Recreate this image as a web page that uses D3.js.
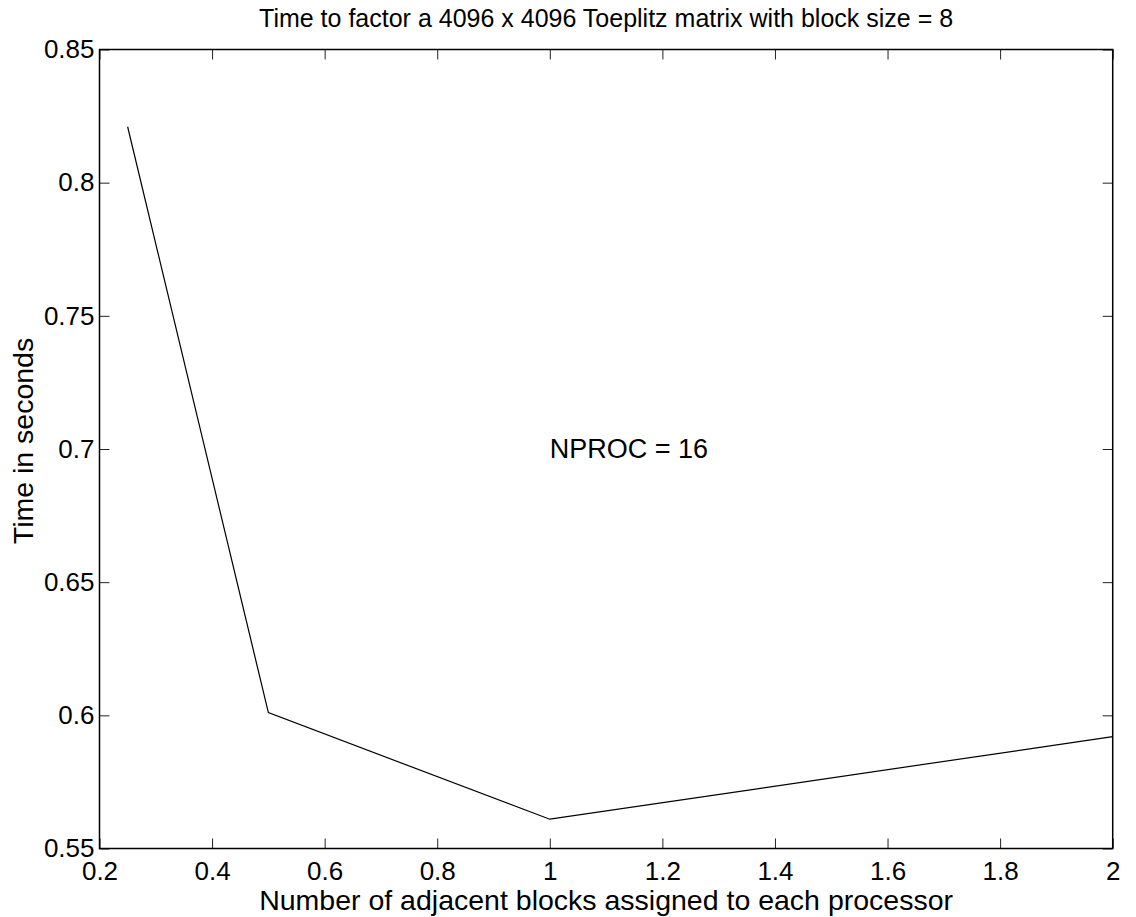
<!DOCTYPE html>
<meta charset="utf-8">
<style>
body { margin: 0; background-color: white; }
svg { display: block; }
text { font-family: "Liberation Sans", Arial, sans-serif; fill: black; }
.tick text { font-size: 26px; }
.title { font-size: 25px; }
.label { font-size: 28.5px; }
.note { font-size: 27px; }
</style>
<body>
<script src="https://d3js.org/d3.v7.min.js"></script>
<script>
// values
var blocks = [0.25, 0.5, 1, 2];
var seconds = [0.821, 0.601, 0.561, 0.592];
var xTicks = [0.2, 0.4, 0.6, 0.8, 1, 1.2, 1.4, 1.6, 1.8, 2];
var yTicks = [0.55, 0.6, 0.65, 0.7, 0.75, 0.8, 0.85];

var viewboxWidth = 1136,
    viewboxHeight = 917;
var margin = {top: 49.5, right: 23.3, bottom: 68.5, left: 99.5},
    width = viewboxWidth - margin.left - margin.right,
    height = viewboxHeight - margin.top - margin.bottom;

var x = d3.scaleLinear().domain([0.2, 2]).range([0, width]);
var y = d3.scaleLinear().domain([0.55, 0.85]).range([height, 0]);

var svg = d3.select("body").append("svg")
    .attr("width", viewboxWidth)
    .attr("height", viewboxHeight);

var g = svg.append("g")
    .attr("transform", "translate(" + margin.left + "," + margin.top + ")");

// axes, ticks pointing inward on all four sides
var tickLen = 10;
var fmt = function(d) { return d3.format("")(+d.toFixed(2)); };

var xBottom = g.append("g")
    .attr("transform", "translate(0," + height + ")")
    .call(d3.axisBottom(x).tickValues(xTicks).tickSize(-tickLen).tickPadding(13).tickFormat(fmt));
var xTop = g.append("g")
    .call(d3.axisTop(x).tickValues(xTicks).tickSize(-tickLen).tickFormat(""));
var yLeft = g.append("g")
    .call(d3.axisLeft(y).tickValues(yTicks).tickSize(-tickLen).tickPadding(5).tickFormat(fmt));
var yRight = g.append("g")
    .attr("transform", "translate(" + width + ",0)")
    .call(d3.axisRight(y).tickValues(yTicks).tickSize(-tickLen).tickFormat(""));

[xBottom, xTop, yLeft, yRight].forEach(function(a) {
  a.select(".domain").remove();
  a.selectAll(".tick line").attr("stroke", "#222").attr("stroke-width", 1);
});

g.append("rect")
    .attr("width", width)
    .attr("height", height)
    .attr("fill", "none")
    .attr("stroke", "black")
    .attr("stroke-width", 1.5);

// the data line
var pts = blocks.map(function(b, i) { return [b, seconds[i]]; });
g.append("path")
    .datum(pts)
    .attr("fill", "none")
    .attr("stroke", "black")
    .attr("stroke-width", 1.2)
    .attr("d", d3.line().x(function(d) { return x(d[0]); }).y(function(d) { return y(d[1]); }));

// annotation
g.append("text")
    .attr("class", "note")
    .attr("x", x(1))
    .attr("y", y(0.7))
    .attr("dy", "0.35em")
    .text("NPROC = 16");

// title and labels
g.append("text")
    .attr("class", "title")
    .attr("text-anchor", "middle")
    .attr("x", width / 2)
    .attr("y", -22.5)
    .text("Time to factor a 4096 x 4096 Toeplitz matrix with block size = 8");

g.append("text")
    .attr("class", "label")
    .attr("text-anchor", "middle")
    .attr("x", width / 2)
    .attr("y", height + 61.5)
    .text("Number of adjacent blocks assigned to each processor");

g.append("text")
    .attr("class", "label")
    .attr("text-anchor", "middle")
    .attr("transform", "translate(" + (-67) + "," + (height / 2 - 8) + ") rotate(-90)")
    .text("Time in seconds");
</script>
</body>
